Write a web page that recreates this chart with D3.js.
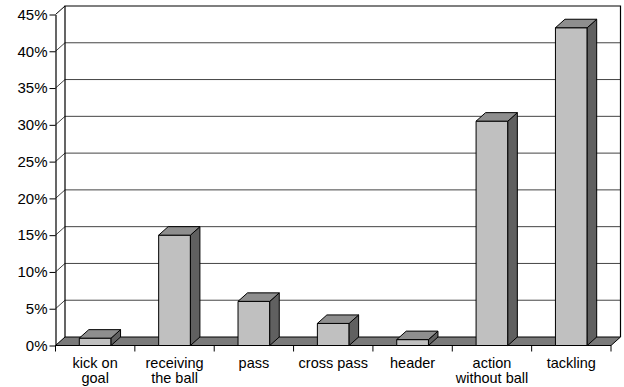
<!DOCTYPE html>
<html>
<head>
<meta charset="utf-8">
<script src="https://cdn.jsdelivr.net/npm/d3@7"></script>
<style>
  html, body { margin: 0; padding: 0; background: #fff; }
  svg { display: block; font-family: "Liberation Sans", Arial, Helvetica, sans-serif; }
</style>
</head>
<body>
<svg id="chart" width="624" height="387"></svg>
<script>
// Share of situations per action type (percent)
const categories = ["kick on goal", "receiving the ball", "pass", "cross pass", "header", "action without ball", "tackling"];
const labelLines = [["kick on", "goal"], ["receiving", "the ball"], ["pass"], ["cross pass"], ["header"], ["action", "without ball"], ["tackling"]];
const values = [1.0, 15, 6, 3, 0.8, 30.5, 43.2];
const yTicks = [0, 5, 10, 15, 20, 25, 30, 35, 40, 45];

const svg = d3.select("#chart");

// Depth offset of the 3-D box
const DX = 9.5, DY = -8.5;

const x = d3.scaleBand().domain(categories).range([55.5, 611]).padding(0);
const y = d3.scaleLinear().domain([0, 45]).range([345.5, 14.5]);

const x0 = x.range()[0], x1 = x.range()[1];
const yBase = y(0), yTop = y(45);

const line = (pts) => "M" + pts.map(p => p.join(",")).join("L") + "Z";

// Back wall
svg.append("rect")
  .attr("x", x0 + DX).attr("y", yTop + DY)
  .attr("width", x1 - x0).attr("height", yBase - yTop)
  .attr("fill", "#fff");

// Gridlines on back wall and left side wall
const grid = svg.append("g");
yTicks.filter(t => t > 0 && t < 45).forEach(t => {
  grid.append("line")
    .attr("x1", x0 + DX).attr("x2", x1 + DX)
    .attr("y1", y(t) + DY).attr("y2", y(t) + DY)
    .attr("stroke", "#444").attr("stroke-width", 1);
  grid.append("line")
    .attr("x1", x0).attr("x2", x0 + DX)
    .attr("y1", y(t)).attr("y2", y(t) + DY)
    .attr("stroke", "#444").attr("stroke-width", 1);
});

// Wall outlines
svg.append("path")
  .attr("d", `M${x0 + DX},${yBase + DY}V${yTop + DY}H${x1 + DX}V${yBase + DY}`)
  .attr("fill", "none").attr("stroke", "#000").attr("stroke-width", 1.2);
svg.append("path")
  .attr("d", `M${x0},${yTop}L${x0 + DX},${yTop + DY}`)
  .attr("fill", "none").attr("stroke", "#000").attr("stroke-width", 1);

// Floor
svg.append("path")
  .attr("d", line([[x0, yBase], [x1, yBase], [x1 + DX, yBase + DY], [x0 + DX, yBase + DY]]))
  .attr("fill", "#7a7a7a").attr("stroke", "#000").attr("stroke-width", 1);

// Bars as 3-D boxes
const barW = x.bandwidth() * 0.4;
const bars = svg.append("g").selectAll("g")
  .data(categories.map((c, i) => ({ c, v: values[i] })))
  .join("g");

bars.each(function(d) {
  const g = d3.select(this);
  const cx = x(d.c) + x.bandwidth() / 2;
  const bl = cx - barW / 2, br = cx + barW / 2;
  const yt = y(d.v);
  // front
  g.append("path")
    .attr("d", line([[bl, yt], [br, yt], [br, yBase], [bl, yBase]]))
    .attr("fill", "#c0c0c0").attr("stroke", "#000").attr("stroke-width", 1).attr("stroke-linejoin", "round");
  // side
  g.append("path")
    .attr("d", line([[br, yt], [br + DX, yt + DY], [br + DX, yBase + DY], [br, yBase]]))
    .attr("fill", "#606060").attr("stroke", "#000").attr("stroke-width", 1).attr("stroke-linejoin", "round");
  // top
  g.append("path")
    .attr("d", line([[bl, yt], [br, yt], [br + DX, yt + DY], [bl + DX, yt + DY]]))
    .attr("fill", "#8e8e8e").attr("stroke", "#000").attr("stroke-width", 1).attr("stroke-linejoin", "round");
});

// Y axis
const yAxis = svg.append("g")
  .attr("transform", `translate(${x0},0)`)
  .call(d3.axisLeft(y).tickValues(yTicks).tickFormat(d => d + "%").tickSize(6).tickSizeOuter(0).tickPadding(2));
yAxis.select(".domain").attr("stroke", "#000").attr("stroke-width", 1.2);
yAxis.selectAll(".tick line").attr("stroke", "#000");
yAxis.selectAll(".tick text")
  .attr("font-family", "'Liberation Sans', Arial, sans-serif")
  .attr("font-size", 15).attr("fill", "#000");

// X axis: front floor edge, ticks at category boundaries, labels centered
const xAxis = svg.append("g");
const bounds = categories.map(c => x(c)).concat([x1]);
xAxis.selectAll("line.tk").data(bounds).join("line")
  .attr("class", "tk")
  .attr("x1", d => d).attr("x2", d => d)
  .attr("y1", yBase).attr("y2", yBase + 6)
  .attr("stroke", "#000").attr("stroke-width", 1);

const lbl = xAxis.selectAll("text").data(categories).join("text")
  .attr("text-anchor", "middle")
  .attr("font-size", 14.5).attr("fill", "#000")
  .attr("y", 367.5);
lbl.each(function(c, i) {
  const t = d3.select(this);
  labelLines[i].forEach((s, j) => {
    t.append("tspan")
      .attr("x", x(c) + x.bandwidth() / 2)
      .attr("dy", j === 0 ? 0 : 15.8)
      .text(s);
  });
});
</script>
</body>
</html>
